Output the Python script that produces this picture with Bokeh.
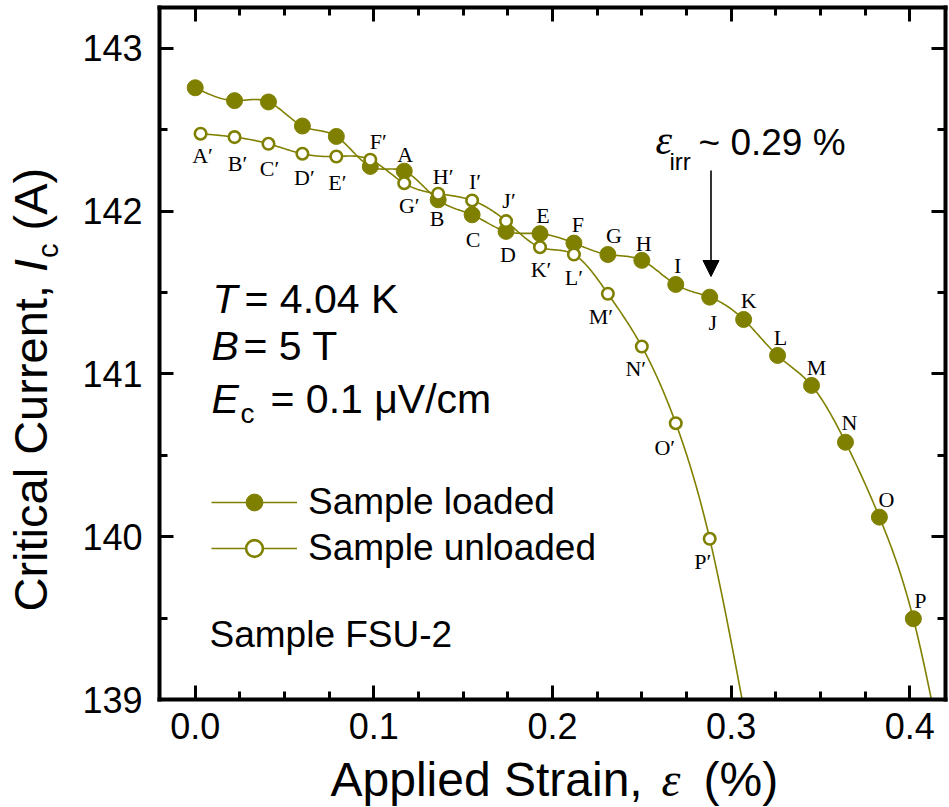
import numpy as np
from bokeh.plotting import figure
from bokeh.models import (ColumnDataSource, FixedTicker, LinearAxis, Arrow, NormalHead,
                          Legend, LegendItem, Range1d, Label)
from bokeh.core.properties import value
from bokeh.embed import file_html
from bokeh.resources import INLINE

# ---------------- data ----------------
loaded_strain = [0.000, 0.022, 0.041, 0.060, 0.079, 0.098, 0.117, 0.136, 0.155, 0.174, 0.193,
                 0.212, 0.231, 0.250, 0.269, 0.288, 0.307, 0.326, 0.345, 0.364, 0.383, 0.402]
loaded_ic = [142.757, 142.678, 142.670, 142.522, 142.458, 142.274, 142.245, 142.069, 141.977,
             141.875, 141.861, 141.803, 141.733, 141.697, 141.549, 141.471, 141.334, 141.113,
             140.929, 140.580, 140.120, 139.496]
loaded_labels = ["", "", "", "", "", "", "A", "B", "C", "D", "E", "F", "G", "H", "I", "J",
                 "K", "L", "M", "N", "O", "P"]

unloaded_strain = [0.003, 0.022, 0.041, 0.060, 0.079, 0.098, 0.117, 0.136, 0.155, 0.174,
                   0.193, 0.212, 0.231, 0.250, 0.269, 0.288]
unloaded_ic = [142.475, 142.454, 142.413, 142.352, 142.335, 142.315, 142.171, 142.106,
               142.065, 141.938, 141.778, 141.733, 141.492, 141.168, 140.697, 139.987]
unloaded_labels = ["A\u2032", "B\u2032", "C\u2032", "D\u2032", "E\u2032", "F\u2032", "G\u2032",
                   "H\u2032", "I\u2032", "J\u2032", "K\u2032", "L\u2032", "M\u2032", "N\u2032",
                   "O\u2032", "P\u2032"]

# next measured points lie below the visible range (only the curve reaches the axis)
loaded_tail_strain = [0.421]
loaded_tail_ic = [138.50]
unloaded_tail_strain = [0.307]
unloaded_tail_ic = [138.95]

x_ticks = [0.0, 0.1, 0.2, 0.3, 0.4]
x_tick_labels = ["0.0", "0.1", "0.2", "0.3", "0.4"]
y_ticks = [139, 140, 141, 142, 143]
y_tick_labels = ["139", "140", "141", "142", "143"]

# ---------------- styles ----------------
OLIVE = "#808000"
SANS = "Liberation Sans"
SERIF = "Liberation Serif"

# label offsets in pixels (style, not data)
loaded_label_dx = [0, 0, 0, 0, 0, 0, 1, -1, 1, 2, 3, 4, 6, 2, 2, 3, 5, 3, 5, 4, 7, 7]
loaded_label_dy = [0, 0, 0, 0, 0, 0, -17, 19, 25, 23, -18, -19, -19, -17, -19, 25, -19, -18,
                   -18, -20, -18, -18]
unloaded_label_dx = [2, 3, 1, 2, 1, 8, 5, 5, 3, 3, 1, 0, -7, -6, -11, -7]
unloaded_label_dy = [22, 26, 25, 24, 26, -18, 22, -17, -19, -21, 22, 23, 23, 22, 24, 23]

# visible plot box (pixels) and its data limits
W_PX, H_PX = 949, 807
FL, FR, FT, FB = 159, 945, 7, 699
X0, X1 = -0.02, 0.42
Y0, Y1 = 139.0, 143.25
XPP = (X1 - X0) / (FR - FL)
YPP = (Y1 - Y0) / (FB - FT)
XS, XE = X0 - FL * XPP, X1 + (W_PX - FR) * XPP
YS, YE = Y0 - (H_PX - FB) * YPP, Y1 + FT * YPP


def px_x(px):
    return XS + px * XPP


def px_y(py):
    return YE - py * YPP


def natural_spline(x, y, n=800):
    x = np.asarray(x, float)
    y = np.asarray(y, float)
    m = len(x)
    h = np.diff(x)
    A = np.zeros((m, m))
    r = np.zeros(m)
    A[0, 0] = 1.0
    A[-1, -1] = 1.0
    for i in range(1, m - 1):
        A[i, i - 1] = h[i - 1]
        A[i, i] = 2 * (h[i - 1] + h[i])
        A[i, i + 1] = h[i]
        r[i] = 3 * ((y[i + 1] - y[i]) / h[i] - (y[i] - y[i - 1]) / h[i - 1])
    c = np.linalg.solve(A, r)
    b = (y[1:] - y[:-1]) / h - h * (2 * c[:-1] + c[1:]) / 3
    d = (c[1:] - c[:-1]) / (3 * h)
    xs = np.linspace(x[0], x[-1], n)
    idx = np.clip(np.searchsorted(x, xs, side="right") - 1, 0, m - 2)
    t = xs - x[idx]
    ys = y[idx] + b[idx] * t + c[idx] * t ** 2 + d[idx] * t ** 3
    # stop the curve where it leaves the plot box at the bottom axis
    below = np.where(ys < Y0)[0]
    if len(below):
        k = below[0]
        f = (ys[k - 1] - Y0) / (ys[k - 1] - ys[k])
        xc = xs[k - 1] + f * (xs[k] - xs[k - 1])
        xs = np.append(xs[:k], xc)
        ys = np.append(ys[:k], Y0)
    return xs, ys


p = figure(width=W_PX, height=H_PX, x_range=Range1d(XS, XE), y_range=Range1d(YS, YE),
           output_backend="svg", toolbar_location=None, x_axis_type=None, y_axis_type=None,
           min_border=0, background_fill_color="white", border_fill_color="white")
p.grid.visible = False
p.outline_line_color = None


def style_axis(ax, ticks, minor, labels, show):
    ax.ticker = FixedTicker(ticks=ticks, minor_ticks=minor)
    ax.axis_line_width = 4
    ax.axis_line_color = "black"
    ax.axis_line_cap = "square"
    ax.major_tick_line_width = 3
    ax.minor_tick_line_width = 3
    ax.major_tick_in = 14
    ax.major_tick_out = 0
    ax.minor_tick_in = 8
    ax.minor_tick_out = 0
    if show:
        ax.major_label_overrides = {t: l for t, l in zip(ticks, labels)}
        ax.major_label_text_font = SANS
        ax.major_label_text_font_size = "36px"
        ax.major_label_text_color = "black"
    else:
        ax.major_label_overrides = {t: "" for t in ticks}
        ax.major_label_text_font_size = "1px"
        ax.major_label_standoff = 0


x_minor = [0.025 * k for k in range(0, 17)]
y_minor = [139 + 0.5 * k for k in range(0, 9)]

xb = LinearAxis(fixed_location=Y0, bounds=(X0, X1))
style_axis(xb, x_ticks, x_minor, x_tick_labels, True)
xb.major_label_standoff = 13
p.add_layout(xb, "below")
xt = LinearAxis(fixed_location=Y1, bounds=(X0, X1))
style_axis(xt, x_ticks, x_minor, x_tick_labels, False)
p.add_layout(xt, "above")
yl = LinearAxis(fixed_location=X0, bounds=(Y0, Y1))
style_axis(yl, y_ticks, y_minor, y_tick_labels, True)
yl.major_label_standoff = 17
p.add_layout(yl, "left")
yr = LinearAxis(fixed_location=X1, bounds=(Y0, Y1))
style_axis(yr, y_ticks, y_minor, y_tick_labels, False)
p.add_layout(yr, "right")

# ---------------- curves and markers ----------------
lx, ly = natural_spline(loaded_strain + loaded_tail_strain, loaded_ic + loaded_tail_ic)
ux, uy = natural_spline(unloaded_strain + unloaded_tail_strain, unloaded_ic + unloaded_tail_ic)

line_l = p.line(lx, ly, line_color=OLIVE, line_width=1.6)
sc_l = p.scatter(loaded_strain, loaded_ic, marker="circle", size=16, fill_color=OLIVE,
                 line_color=OLIVE, line_width=1)
line_u = p.line(ux, uy, line_color=OLIVE, line_width=1.6)
sc_u = p.scatter(unloaded_strain, unloaded_ic, marker="circle", size=11.5, fill_color="white",
                 line_color=OLIVE, line_width=2.6)

# point labels
ls = ColumnDataSource(dict(x=loaded_strain, y=loaded_ic, t=loaded_labels,
                           dx=loaded_label_dx, dy=loaded_label_dy))
p.text(x="x", y="y", text="t", x_offset="dx", y_offset="dy", source=ls,
       text_font=value(SERIF), text_font_size="22px", text_align="center",
       text_baseline="middle", text_color="black")
us = ColumnDataSource(dict(x=unloaded_strain, y=unloaded_ic, t=unloaded_labels,
                           dx=unloaded_label_dx, dy=unloaded_label_dy))
p.text(x="x", y="y", text="t", x_offset="dx", y_offset="dy", source=us,
       text_font=value(SERIF), text_font_size="22px", text_align="center",
       text_baseline="middle", text_color="black")

# ---------------- legend ----------------
legend = Legend(items=[LegendItem(label="Sample loaded", renderers=[line_l, sc_l]),
                       LegendItem(label="Sample unloaded", renderers=[line_u, sc_u])],
                location=(211, 238), orientation="vertical", glyph_width=86, glyph_height=42,
                label_height=42, label_standoff=11, spacing=4, padding=0, margin=0,
                border_line_color=None, background_fill_alpha=0,
                label_text_font=SANS, label_text_font_size="37px", label_text_color="black")
p.add_layout(legend)

BASE_SHIFT = 0.36  # measured shift of Bokeh's label baseline, in em


# ---------------- annotations ----------------
def lab(xp, yp, text, font=SANS, size=37, style="normal", angle=0, align="left"):
    if angle == 0:
        yp = yp - BASE_SHIFT * size
    else:
        xp = xp - BASE_SHIFT * size
    p.add_layout(Label(x=px_x(xp), y=px_y(yp), text=text, text_font=font,
                       text_font_size=f"{size}px", text_font_style=style,
                       text_baseline="alphabetic", text_align=align, angle=angle,
                       angle_units="deg", text_color="black"))


# T, B, Ec block
lab(212, 313, "T", SANS, 41, "italic")
lab(244, 313, "= 4.04 K", SANS, 41)
lab(211, 360, "B", SANS, 41, "italic")
lab(243, 360, "= 5 T", SANS, 41)
lab(211, 413, "E", SANS, 41, "italic")
lab(240, 423, "c", SANS, 28)
lab(270, 413, "= 0.1 \u03bcV/cm", SANS, 41)

lab(209, 647, "Sample FSU-2", SANS, 37)

# epsilon_irr annotation
lab(655, 155, "\u03b5", SERIF, 42, "italic")
lab(669, 170, "irr", SANS, 24)
lab(698, 155, "~ 0.29 %", SANS, 37)
p.add_layout(Arrow(end=NormalHead(size=16, fill_color="black", line_color="black"),
                   x_start=px_x(710.5), y_start=px_y(170), x_end=px_x(710.5), y_end=px_y(276),
                   line_color="black", line_width=1.6))

# axis titles
lab(330, 796, "Applied Strain,", SANS, 48)
lab(661, 796, "\u03b5", SERIF, 48, "italic")
lab(703, 796, "(%)", SANS, 48)

W = {"C": .722, "r": .333, "i": .222, "t": .278, "c": .5, "a": .556, "l": .222, " ": .278,
     "u": .556, "e": .556, "n": .556, ",": .278, "I": .278, "(": .333, "A": .667, ")": .333}


def width(s, size):
    return sum(W[ch] for ch in s) * size


YT = 47
ys0 = 611
s1 = "Critical Current, "
lab(47, ys0, s1, SANS, YT, angle=90)
y1 = ys0 - width(s1, YT)
lab(47, y1, "I", SANS, YT, "italic", angle=90)
y2 = y1 - width("I", YT) - 1
lab(58, y2, "c", SANS, 29, angle=90)
y3 = y2 - width("c", 29) - width(" ", YT)
lab(47, y3, "(A)", SANS, YT, angle=90)

open("out.html", "w").write(file_html(p, INLINE))
